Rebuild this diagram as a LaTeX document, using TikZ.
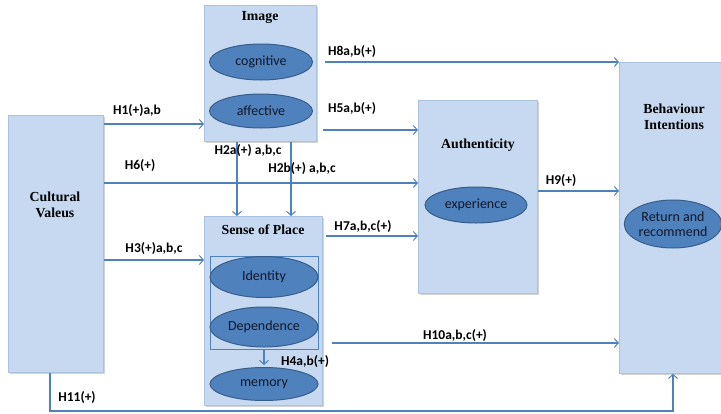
\documentclass[tikz,border=0pt]{standalone}
\usepackage{fontspec}
\setmainfont{Liberation Serif}
\newfontfamily\labfont{Carlito}
\usetikzlibrary{arrows.meta,shadows,calc,shapes.geometric}
\definecolor{boxfill}{HTML}{C6D9F1}
\definecolor{boxline}{HTML}{A9C2E0}
\definecolor{ellfill}{HTML}{4F81BD}
\definecolor{ellline}{HTML}{385D8A}
\definecolor{conn}{HTML}{4F81BD}
\definecolor{elltext}{HTML}{10192B}
\begin{document}
\begin{tikzpicture}[x=1pt,y=-1pt,
  box/.style={draw=boxline,fill=boxfill,line width=0.8pt,inner sep=0pt,anchor=north west,
    drop shadow={shadow xshift=2pt,shadow yshift=-2pt,opacity=0.35}},
  title/.style={font=\bfseries\fontsize{13.8}{15.5}\selectfont,align=center,inner sep=0pt},
  ell/.style={ellipse,draw=ellline,fill=ellfill,line width=1pt,inner sep=0pt,
    font=\labfont\fontsize{14}{15}\selectfont,text=elltext,align=center},
  lab/.style={font=\labfont\bfseries\fontsize{13.5}{15}\selectfont,inner sep=0pt},
  conn/.style={draw=conn,line width=1.1pt,-{Straight Barb[length=4pt,width=9pt,line width=1pt]}}
]
\useasboundingbox (0,0) rectangle (721,413);
\clip (0,0) rectangle (721,413);
% boxes
\node[box,minimum width=95pt,minimum height=257pt] (cv) at (8,115) {};
\node[box,minimum width=112pt,minimum height=136pt] (img) at (204,5) {};
\node[box,minimum width=118pt,minimum height=189pt] (sp) at (204,216) {};
\node[box,minimum width=119pt,minimum height=193pt] (au) at (418,100) {};
\node[box,minimum width=110pt,minimum height=311pt] (bi) at (619,62) {};
% titles
\node[title] (cvt) at (55,205) {Cultural\\Valeus};
\node[title] (imgt) at (260,18) {Image};
\node[title] (spt) at (263,230) {Sense of Place};
\node[title] (aut) at (478,145) {Authenticity};
\node[title] (bit) at (674,117) {Behaviour\\Intentions};
% inner frame
\node[draw=conn,line width=1pt,minimum width=108pt,minimum height=93pt,inner sep=0pt,anchor=north west] (frame) at (210,256) {};
% ellipses
\node[ell,minimum width=103pt,minimum height=36pt] (cog) at (261,62) {cognitive};
\node[ell,minimum width=103pt,minimum height=34pt] (aff) at (261,111) {affective};
\node[ell,minimum width=108pt,minimum height=41pt] (ide) at (264,277) {Identity};
\node[ell,minimum width=108pt,minimum height=40pt] (dep) at (264,327) {Dependence};
\node[ell,minimum width=108pt,minimum height=33pt] (mem) at (264,384) {memory};
\node[ell,minimum width=102pt,minimum height=36pt] (exp) at (476,205) {experience};
\node[ell,minimum width=94pt,minimum height=48pt,font=\labfont\fontsize{14}{15.5}\selectfont] (ret) at (673,224) {Return and\\recommend};
% connectors
\draw[conn] (cv.east |- 0,124) -- (img.west |- 0,124);
\draw[conn] ($(img.east |- 0,62)+(8,0)$) -- (bi.west |- 0,62);
\draw[conn] ($(img.east |- 0,130)+(6,0)$) -- (au.west |- 0,130);
\draw[conn] (cv.east |- 0,183) -- (au.west |- 0,183);
\draw[conn] (img.south -| 237,0) -- (sp.north -| 237,0);
\draw[conn] (img.south -| 291,0) -- (sp.north -| 291,0);
\draw[conn] (cv.east |- 0,260) -- (sp.west |- 0,260);
\draw[conn] ($(sp.east |- 0,236)+(3,0)$) -- (au.west |- 0,236);
\draw[conn] (au.east |- 0,191) -- (bi.west |- 0,191);
\draw[conn] ($(sp.east |- 0,343)+(9,0)$) -- (bi.west |- 0,343);
\draw[conn] (frame.south -| mem.north) -- ($(mem.north)+(0,-2)$);
\coordinate (c1) at (50,411);
\coordinate (c2) at (673,411);
\draw[conn] (cv.south -| c1) -- (c1) -- (c2) -- (bi.south -| c2);
% labels
\node[lab] (l8) at (352,52) {H8a,b(+)};
\node[lab] (l5) at (352,109) {H5a,b(+)};
\node[lab] (l1) at (137,111) {H1(+)a,b};
\node[lab] (l6) at (140,166) {H6(+)};
\node[lab] (l2a) at (248,151) {H2a(+) a,b,c};
\node[lab] (l2b) at (302,169) {H2b(+) a,b,c};
\node[lab] (l3) at (154,249) {H3(+)a,b,c};
\node[lab] (l7) at (363,227) {H7a,b,c(+)};
\node[lab] (l9) at (561,181) {H9(+)};
\node[lab] (l10) at (455,336) {H10a,b,c(+)};
\node[lab] (l4) at (305,362) {H4a,b(+)};
\node[lab] (l11) at (77,398) {H11(+)};
\end{tikzpicture}
\end{document}
